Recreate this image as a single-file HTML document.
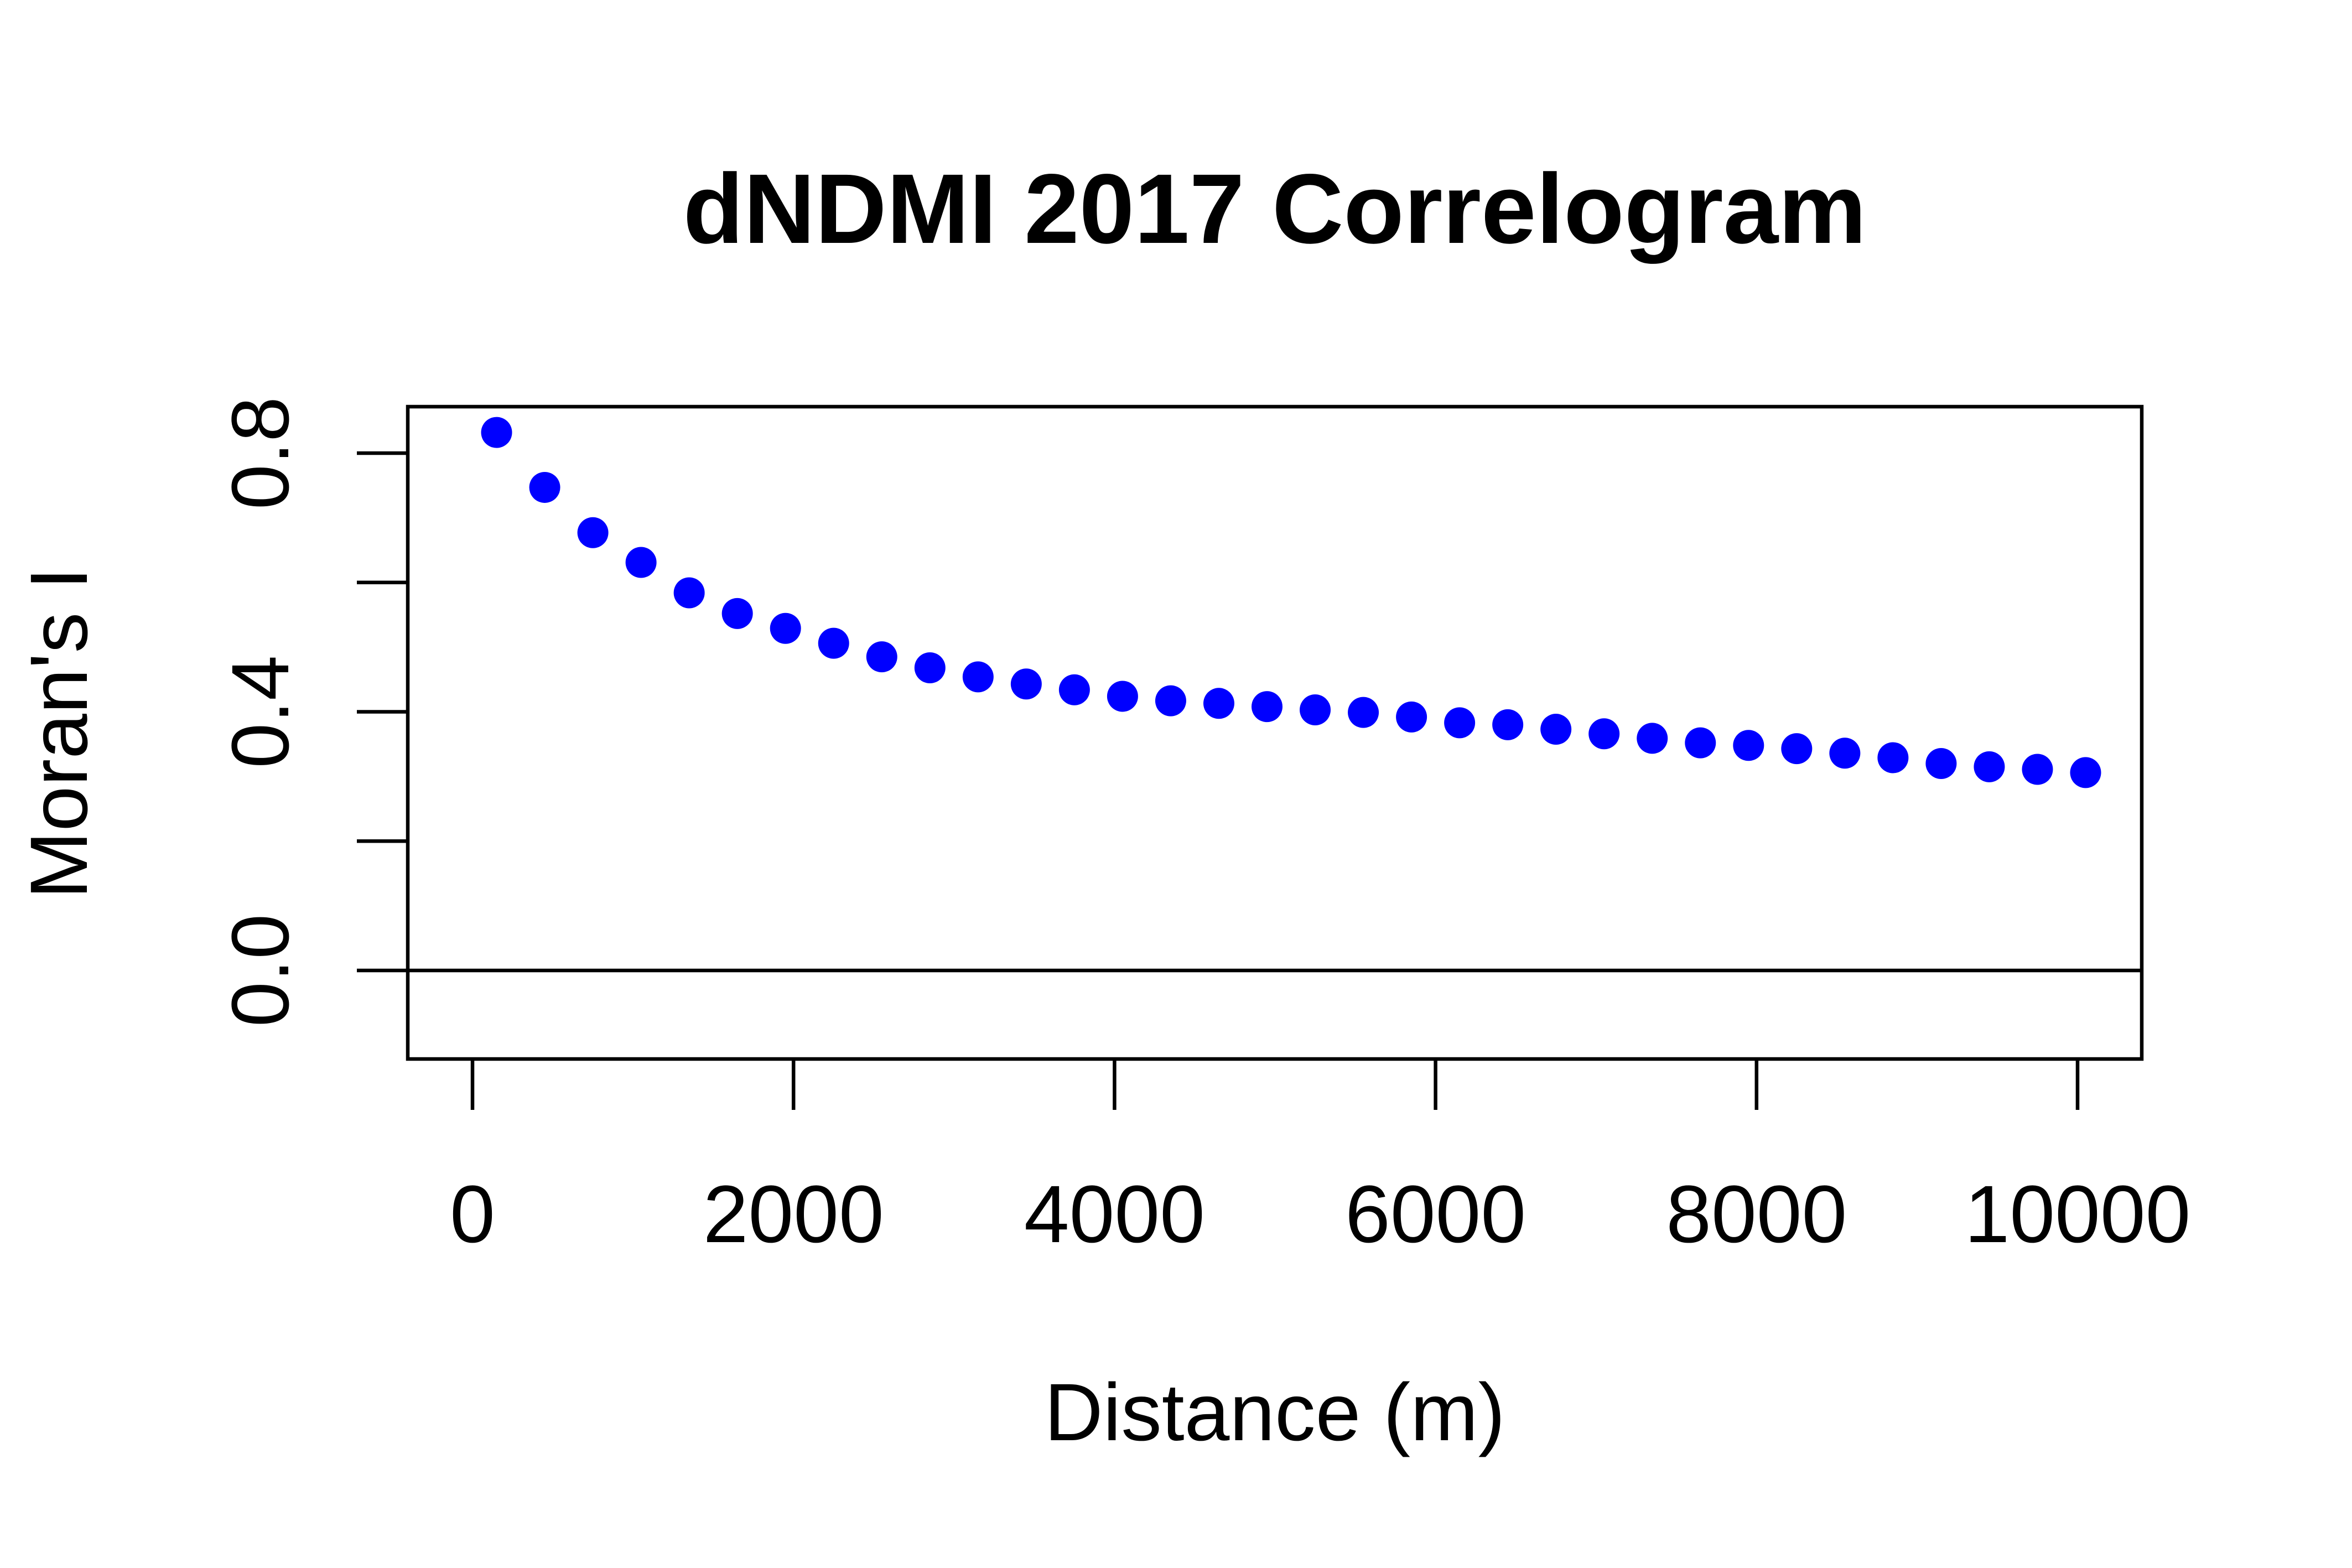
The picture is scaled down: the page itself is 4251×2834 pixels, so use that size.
<!DOCTYPE html>
<html><head><meta charset="utf-8"><style>
html,body{margin:0;padding:0;background:#fff;}
svg{display:block;font-family:"Liberation Sans",Arial,sans-serif;}
</style></head><body>
<svg id="chart" width="4251" height="2834" viewBox="0 0 4251 2834">
<text x="2304" y="439" font-size="179" font-weight="bold" text-anchor="middle">dNDMI 2017 Correlogram</text>
<rect x="737" y="735" width="3134" height="1179" fill="none" stroke="#000" stroke-width="6.5"/>
<g id="xaxis"></g>
<g id="yaxis"></g>
<text x="2304" y="2603" font-size="147" text-anchor="middle">Distance (m)</text>
<text transform="translate(157,1325) rotate(-90)" font-size="147" text-anchor="middle">Moran's I</text>
<g id="pts"></g>
</svg>
<script>
const distances = [150,450,750,1050,1350,1650,1950,2250,2550,2850,3150,3450,3750,4050,4350,4650,4950,5250,5550,5850,6150,6450,6750,7050,7350,7650,7950,8250,8550,8850,9150,9450,9750,10050];
const moransI = [0.832,0.747,0.677,0.631,0.584,0.552,0.529,0.506,0.485,0.468,0.454,0.443,0.434,0.424,0.417,0.413,0.408,0.403,0.399,0.392,0.383,0.380,0.373,0.366,0.359,0.352,0.348,0.343,0.336,0.329,0.320,0.315,0.311,0.306];
const xTicks = [0,2000,4000,6000,8000,10000];
const yTicks = [0,0.2,0.4,0.6,0.8];
const yLabels = ["0.0","","0.4","","0.8"];
const NS="http://www.w3.org/2000/svg";
const X = v => 854 + (3755-854)*v/10000;
const Y = v => 1754 - (1754-819)*v/0.8;
function mk(tag, attrs, parent){const e=document.createElementNS(NS,tag);for(const k in attrs)e.setAttribute(k,attrs[k]);parent.appendChild(e);return e;}
const xa=document.getElementById('xaxis'), ya=document.getElementById('yaxis'), pts=document.getElementById('pts');
xTicks.forEach(t=>{
  const l=mk('line',{x1:X(t),x2:X(t),y1:1914,y2:2006,stroke:'#000','stroke-width':6.5},xa);
  
  
  const tx=mk('text',{x:X(t),y:2245,'font-size':147,'text-anchor':'middle'},xa);
  tx.textContent=t;
  
  
});
yTicks.forEach((t,i)=>{
  const l=mk('line',{x1:645,x2:737,y1:Y(t),y2:Y(t),stroke:'#000','stroke-width':6.5},ya);
  
  
  if(yLabels[i]){
    const tx=mk('text',{transform:`translate(521,${Y(t)}) rotate(-90)`,'font-size':147,'text-anchor':'middle'},ya);
    tx.textContent=yLabels[i];
    
    
  }
});
const zl=mk('line',{x1:737,x2:3871,y1:Y(0),y2:Y(0),stroke:'#000','stroke-width':6.5},pts);


distances.forEach((d,i)=>{
  const c=mk('circle',{cx:X(d),cy:Y(moransI[i]),r:28,fill:'#0000ff'},pts);
  
  
});
</script>
</body></html>
